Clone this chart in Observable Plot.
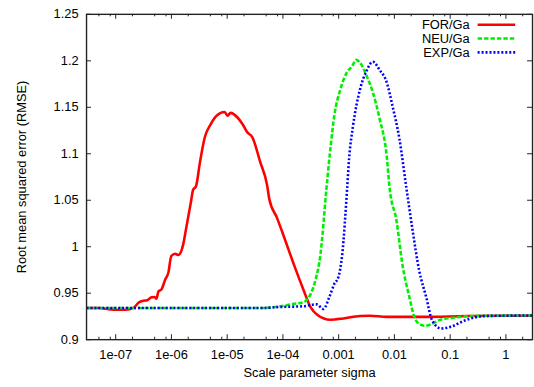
<!DOCTYPE html>
<html>
<head>
<meta charset="utf-8">
<script src="https://cdn.jsdelivr.net/npm/d3@7"></script>
<script src="https://cdn.jsdelivr.net/npm/@observablehq/plot@0.6"></script>
<style>
  html, body { margin: 0; padding: 0; background: #fff; overflow: hidden; }
</style>
</head>
<body>
<div id="chart"></div>
<script>
// ---- data ----
const seriesNames = ["FOR/Ga", "NEU/Ga", "EXP/Ga"];

const forSigma = [3e-8, 5.06e-8, 7.6e-8, 1e-7, 1.5e-7, 2.11e-7, 2.59e-7, 3.18e-7, 3.7e-7, 4.4e-7, 5.0e-7, 5.39e-7, 5.85e-7, 6.61e-7, 7.78e-7, 8.8e-7, 9.95e-7, 1.17e-6, 1.32e-6, 1.62e-6, 1.84e-6, 2.25e-6, 2.44e-6, 2.76e-6, 3.25e-6, 3.98e-6, 5.09e-6, 6.23e-6, 9.0e-6, 1.02e-5, 1.15e-5, 1.53e-5, 1.88e-5, 2.3e-5, 2.82e-5, 3.92e-5, 5.21e-5, 5.67e-5, 7.83e-5, 1.04e-4, 1.57e-4, 2.36e-4, 3.13e-4, 4.17e-4, 7.09e-4, 1.21e-3, 2.41e-3, 3.63e-3, 7.26e-3, 0.0371, 0.2, 3];
const forRmse  = [0.934, 0.934, 0.9328, 0.9322, 0.9322, 0.9345, 0.940, 0.942, 0.9425, 0.9457, 0.946, 0.944, 0.952, 0.954, 0.965, 0.972, 0.990, 0.9925, 0.991, 1.002, 1.020, 1.049, 1.061, 1.065, 1.091, 1.118, 1.132, 1.140, 1.145, 1.141, 1.144, 1.139, 1.132, 1.123, 1.118, 1.091, 1.066, 1.052, 1.031, 1.011, 0.981, 0.953, 0.935, 0.9266, 0.9215, 0.9228, 0.9255, 0.9258, 0.9245, 0.9245, 0.9255, 0.9258];

const neuSigma = [3e-8, 4.07e-5, 9.22e-5, 1.57e-4, 2.36e-4, 3.13e-4, 3.84e-4, 4.72e-4, 6.05e-4, 7.09e-4, 8.35e-4, 1.07e-3, 1.42e-3, 1.74e-3, 2.05e-3, 2.41e-3, 3.21e-3, 4.10e-3, 5.46e-3, 7.26e-3, 8.20e-3, 0.0109, 0.0139, 0.0185, 0.0227, 0.0279, 0.0356, 0.0474, 0.0631, 0.107, 0.243, 3];
const neuRmse  = [0.934, 0.934, 0.936, 0.9386, 0.9404, 0.949, 0.964, 0.992, 1.063, 1.105, 1.141, 1.169, 1.188, 1.194, 1.201, 1.198, 1.183, 1.166, 1.137, 1.098, 1.063, 1.028, 0.981, 0.946, 0.9245, 0.917, 0.915, 0.917, 0.921, 0.9234, 0.9255, 0.926];

const expSigma = [3e-8, 4.07e-5, 7.83e-5, 2.36e-4, 4.0e-4, 5.33e-4, 6.81e-4, 8.35e-4, 9.84e-4, 1.16e-3, 1.42e-3, 1.54e-3, 1.81e-3, 2.41e-3, 3.21e-3, 4.10e-3, 5.46e-3, 7.26e-3, 9.27e-3, 0.0123, 0.0164, 0.0209, 0.0279, 0.0371, 0.0474, 0.0684, 0.103, 0.190, 0.430, 3];
const expRmse  = [0.934, 0.934, 0.935, 0.936, 0.938, 0.933, 0.946, 0.960, 0.967, 0.992, 1.063, 1.095, 1.130, 1.169, 1.190, 1.199, 1.190, 1.177, 1.151, 1.116, 1.063, 1.020, 0.974, 0.946, 0.921, 0.912, 0.914, 0.921, 0.9255, 0.926];

const xMajorTicks = [1e-7, 1e-6, 1e-5, 1e-4, 1e-3, 1e-2, 1e-1, 1];
const xTickLabels = ["1e-07", "1e-06", "1e-05", "1e-04", "0.001", "0.01", "0.1", "1"];
const xMinorMultipliers = [2, 5, 8];
const yTicks = [0.9, 0.95, 1, 1.05, 1.1, 1.15, 1.2, 1.25];
const yTickLabels = ["0.9", "0.95", "1", "1.05", "1.1", "1.15", "1.2", "1.25"];
const xTitle = "Scale parameter sigma";
const yTitle = "Root mean squared error (RMSE)";

// ---- build tables ----
const toRows = (s, v) => s.map((d, i) => ({sigma: d, rmse: v[i]}));
const forData = toRows(forSigma, forRmse);
const neuData = toRows(neuSigma, neuRmse);
const expData = toRows(expSigma, expRmse);

const xDomain = [3e-8, 3];
const xMinorTicks = [];
for (let e = -8; e <= 0; e++) for (const m of xMinorMultipliers) {
  const v = m * Math.pow(10, e);
  if (v > xDomain[0] && v < xDomain[1]) xMinorTicks.push(v);
}

const W = 540, H = 387, mL = 87, mR = 2, mT = 14, mB = 44;
const innerW = W - mL - mR, innerH = H - mT - mB;
const major = 5, minor = 2.5;
const axisColor = "#222";

const colors = ["#ff0000", "#00ee00", "#0000ff"];
const dashes = [null, "4.5,2", "2,2"];
const lineW = 2.6;
const lineStyle = {strokeWidth: lineW, strokeLinecap: "butt", strokeLinejoin: "round", curve: "monotone-x"};

const chart = Plot.plot({
  width: W, height: H,
  marginLeft: mL, marginRight: mR, marginTop: mT, marginBottom: mB,
  style: {fontFamily: "'Liberation Sans', Arial, Helvetica, sans-serif", fontSize: "13px", color: "#000", background: "#fff"},
  x: {type: "log", domain: xDomain},
  y: {domain: [0.9, 1.25]},
  marks: [
    // ticks (inward, gnuplot style)
    Plot.tickX(xMajorTicks, {x: d => d, insetTop: innerH - major, stroke: axisColor, strokeWidth: 1}),
    Plot.tickX(xMajorTicks, {x: d => d, insetBottom: innerH - major, stroke: axisColor, strokeWidth: 1}),
    Plot.tickX(xMinorTicks, {x: d => d, insetTop: innerH - minor, stroke: axisColor, strokeWidth: 1}),
    Plot.tickX(xMinorTicks, {x: d => d, insetBottom: innerH - minor, stroke: axisColor, strokeWidth: 1}),
    Plot.tickY(yTicks, {y: d => d, insetRight: innerW - major, stroke: axisColor, strokeWidth: 1}),
    Plot.tickY(yTicks, {y: d => d, insetLeft: innerW - major, stroke: axisColor, strokeWidth: 1}),
    // tick labels
    Plot.axisX({ticks: xMajorTicks, tickFormat: d => xTickLabels[xMajorTicks.indexOf(d)], tickSize: 0, tickPadding: 10, label: null}),
    Plot.axisY({ticks: yTicks, tickFormat: d => yTickLabels[yTicks.indexOf(d)], tickSize: 0, tickPadding: 8, label: null}),
    // axis titles
    Plot.text([xTitle], {text: d => d, frameAnchor: "bottom", lineAnchor: "middle", textAnchor: "middle", dy: 34, fill: "#000"}),
    Plot.text([yTitle], {text: d => d, frameAnchor: "left", lineAnchor: "middle", textAnchor: "middle", rotate: -90, dx: -65, fill: "#000"}),
    // series
    Plot.line(forData, {x: "sigma", y: "rmse", stroke: colors[0], ...lineStyle}),
    Plot.line(neuData, {x: "sigma", y: "rmse", stroke: colors[1], strokeDasharray: dashes[1], ...lineStyle}),
    Plot.line(expData, {x: "sigma", y: "rmse", stroke: colors[2], strokeDasharray: dashes[2], ...lineStyle}),
    Plot.frame({stroke: axisColor, strokeWidth: 1.4})
  ]
});

// legend (gnuplot style, top right inside the frame)
const svg = d3.select(chart);
const lg = svg.append("g").attr("font-family", "'Liberation Sans', Arial, Helvetica, sans-serif").attr("font-size", 13);
seriesNames.forEach((name, i) => {
  const y = 25 + i * 14;
  lg.append("text").attr("x", 475).attr("y", y).attr("dy", "0.35em").attr("text-anchor", "end").attr("fill", "#000").text(name);
  const l = lg.append("line").attr("x1", 483).attr("x2", 521).attr("y1", y).attr("y2", y)
    .attr("stroke", colors[i]).attr("stroke-width", lineW).attr("stroke-linecap", "butt");
  if (dashes[i]) l.attr("stroke-dasharray", dashes[i]);
});

document.getElementById("chart").appendChild(chart);
</script>
</body>
</html>
